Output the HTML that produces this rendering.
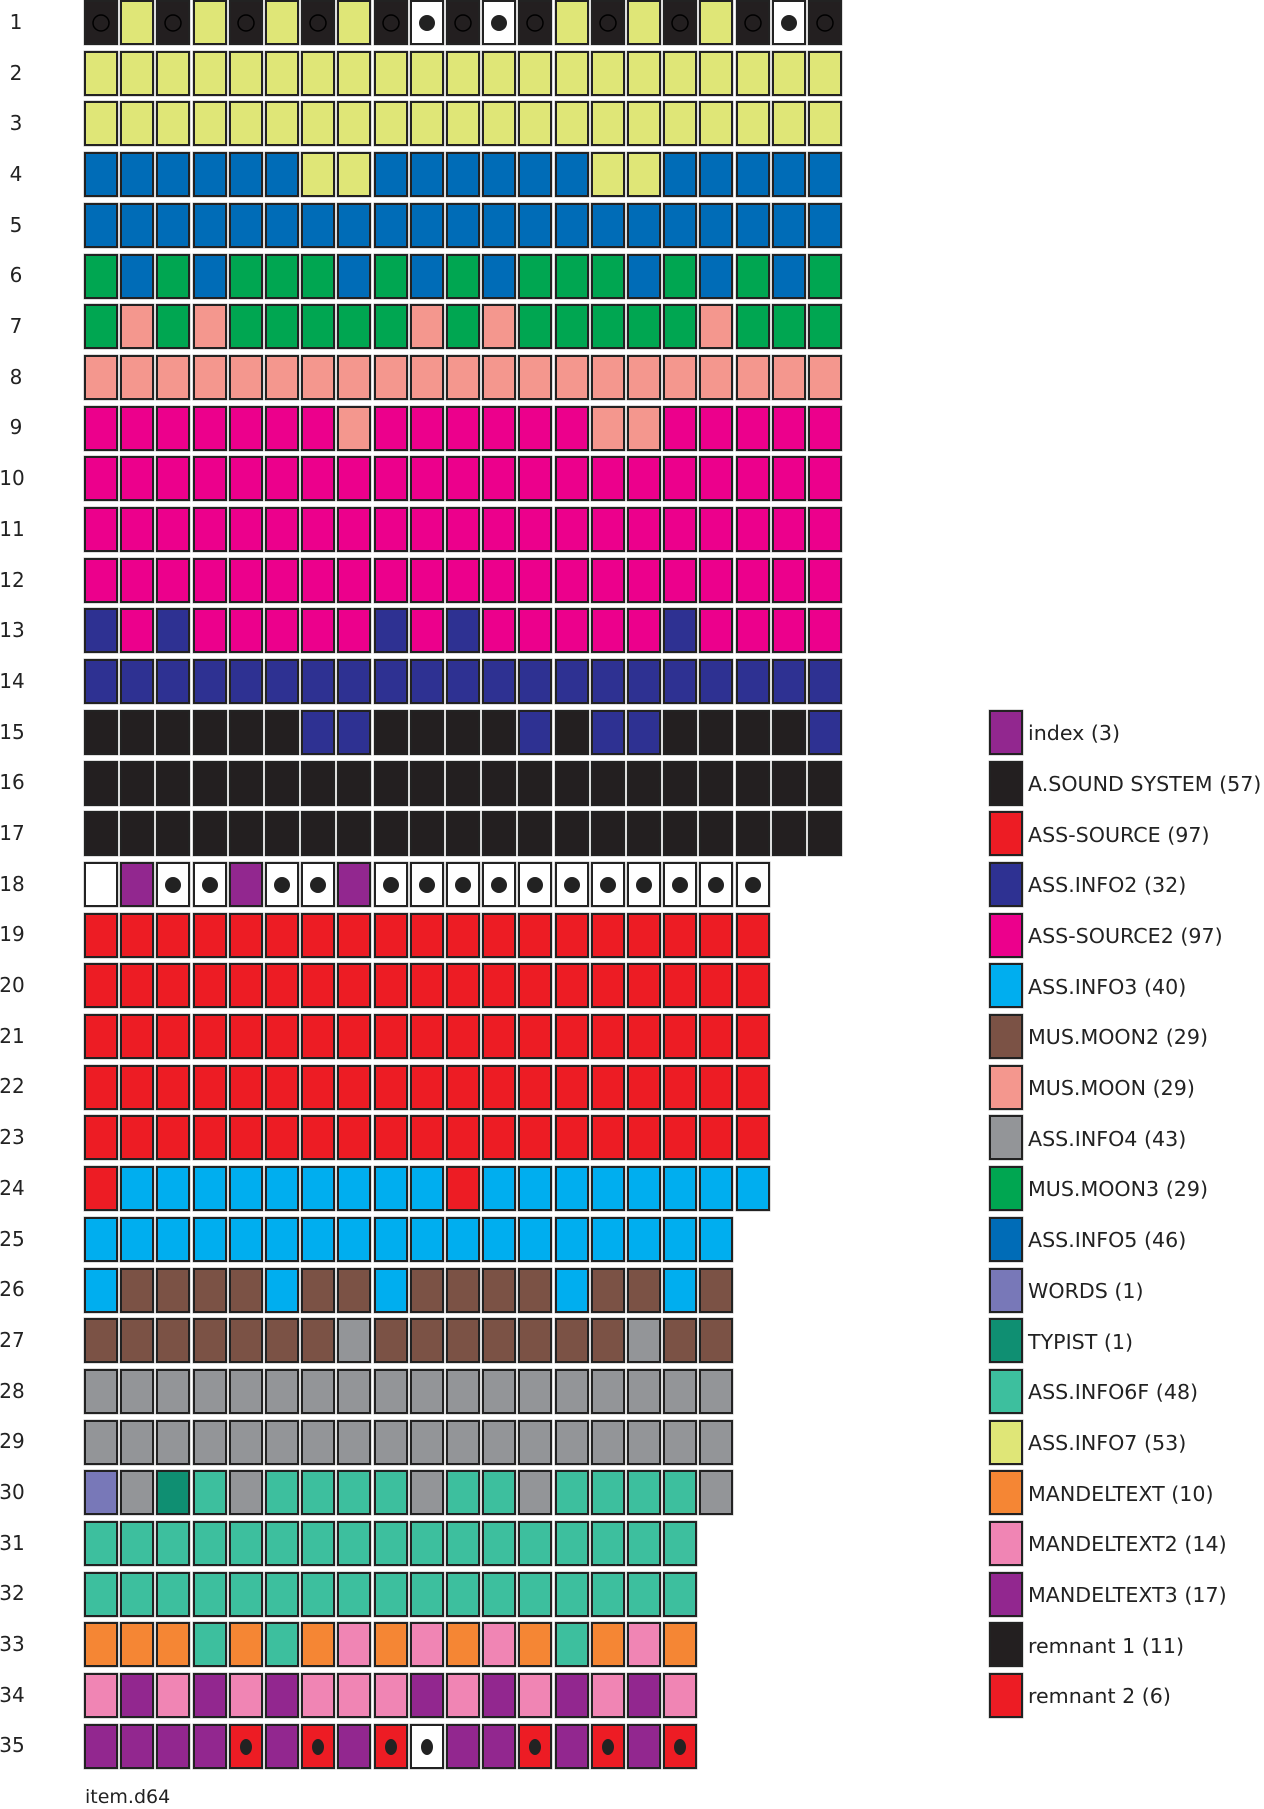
<!DOCTYPE html>
<html><head><meta charset="utf-8"><style>
body{margin:0;background:#fff}
svg{display:block}
text{font-family:"DejaVu Sans","Liberation Sans",sans-serif;fill:#222}
</style></head><body>
<svg id="s" width="1264" height="1809" xmlns="http://www.w3.org/2000/svg">
<g id="labels" font-size="20" text-anchor="middle">
<text x="16" y="29">1</text><text x="16" y="80">2</text><text x="16" y="130">3</text><text x="16" y="181">4</text><text x="16" y="232">5</text><text x="16" y="282">6</text><text x="16" y="333">7</text><text x="16" y="384">8</text><text x="16" y="434">9</text><text x="12" y="485">10</text><text x="12" y="536">11</text><text x="12" y="587">12</text><text x="12" y="637">13</text><text x="12" y="688">14</text><text x="12" y="739">15</text><text x="12" y="789">16</text><text x="12" y="840">17</text><text x="12" y="891">18</text><text x="12" y="941">19</text><text x="12" y="992">20</text><text x="12" y="1043">21</text><text x="12" y="1093">22</text><text x="12" y="1144">23</text><text x="12" y="1195">24</text><text x="12" y="1246">25</text><text x="12" y="1296">26</text><text x="12" y="1347">27</text><text x="12" y="1398">28</text><text x="12" y="1448">29</text><text x="12" y="1499">30</text><text x="12" y="1550">31</text><text x="12" y="1600">32</text><text x="12" y="1651">33</text><text x="12" y="1702">34</text><text x="12" y="1752">35</text>
</g>
<text x="85" y="1803" font-size="19">item.d64</text>
<g font-size="20.6">
<text x="1028" y="740">index (3)</text>
<text x="1028" y="791">A.SOUND SYSTEM (57)</text>
<text x="1028" y="842">ASS-SOURCE (97)</text>
<text x="1028" y="892">ASS.INFO2 (32)</text>
<text x="1028" y="943">ASS-SOURCE2 (97)</text>
<text x="1028" y="994">ASS.INFO3 (40)</text>
<text x="1028" y="1044">MUS.MOON2 (29)</text>
<text x="1028" y="1095">MUS.MOON (29)</text>
<text x="1028" y="1146">ASS.INFO4 (43)</text>
<text x="1028" y="1196">MUS.MOON3 (29)</text>
<text x="1028" y="1247">ASS.INFO5 (46)</text>
<text x="1028" y="1298">WORDS (1)</text>
<text x="1028" y="1349">TYPIST (1)</text>
<text x="1028" y="1399">ASS.INFO6F (48)</text>
<text x="1028" y="1450">ASS.INFO7 (53)</text>
<text x="1028" y="1501">MANDELTEXT (10)</text>
<text x="1028" y="1551">MANDELTEXT2 (14)</text>
<text x="1028" y="1602">MANDELTEXT3 (17)</text>
<text x="1028" y="1653">remnant 1 (11)</text>
<text x="1028" y="1703">remnant 2 (6)</text>
</g>
<g id="cells"></g>
</svg>
<script>
var C={K:"#231f20",Y:"#dfe677",B:"#006cb7",G:"#00a651",S:"#f4978e",M:"#ec008c",N:"#2e3192",W:"#ffffff",P:"#92278f",R:"#ed1c24",C:"#00aeef",X:"#7b5245",g:"#939598",L:"#7878b8",T:"#0f8f72",A:"#3dbf9e",O:"#f58634",k:"#f085b4"};
function rep(c,n){return Array(n+1).join(c+" ").trim();}
var rows=[
"Ko Y Ko Y Ko Y Ko Y Ko W* Ko W* Ko Y Ko Y Ko Y Ko W* Ko",
rep("Y",21),rep("Y",21),
"B B B B B B Y Y B B B B B B Y Y B B B B B",
rep("B",21),
"G B G B G G G B G B G B G G G B G B G B G",
"G S G S G G G G G S G S G G G G G S G G G",
rep("S",21),
"M M M M M M M S M M M M M M S S M M M M M",
rep("M",21),rep("M",21),rep("M",21),
"N M N M M M M M N M N M M M M M N M M M M",
rep("N",21),
"K K K K K K N N K K K K N K N N K K K K N",
rep("K",21),rep("K",21),
"W P W* W* P W* W* P "+rep("W*",11),
rep("R",19),rep("R",19),rep("R",19),rep("R",19),rep("R",19),
"R C C C C C C C C C R C C C C C C C C",
rep("C",18),
"C X X X X C X X C X X X X C X X C X",
"X X X X X X X g X X X X X X X g X X",
rep("g",18),rep("g",18),
"L g T A g A A A A g A A g A A A A g",
rep("A",17),rep("A",17),
"O O O A O A O k O k O k O A O k O",
"k P k P k P k k k P k P k P k P k",
"P P P P R* P R* P R* W* P P R* P R* P R*"
];
var s="",py=50.7,px=36.2;
rows.forEach(function(r,i){
 var y=Math.round(i*py)+1;
 r.split(" ").forEach(function(t,j){
  var x=Math.round(85+j*px);
  s+='<rect x="'+(x-1)+'" y="'+(y-1)+'" width="34" height="45" fill="none" stroke="#bbb" stroke-width="1"/>';
  s+='<rect x="'+x+'" y="'+y+'" width="32" height="43" fill="'+C[t[0]]+'" stroke="#222" stroke-width="2"/>';
  var cx=x+16,cy=y+22;
  if(t[1]=="o")s+='<circle cx="'+cx+'" cy="'+cy+'" r="8" fill="none" stroke="#000" stroke-width="1.5"/>';
  if(t[1]=="*"){ if(i==34)s+='<ellipse cx="'+cx+'" cy="'+cy+'" rx="6" ry="8" fill="#222"/>'; else s+='<circle cx="'+cx+'" cy="'+cy+'" r="8" fill="#222"/>';}
 });
});
var lg=["P","K","R","N","M","C","X","S","g","G","B","L","T","A","Y","O","k","P","K","R"];
lg.forEach(function(c,i){var y=Math.round((14+i)*py)+1;
 s+='<rect x="989" y="'+(y-1)+'" width="34" height="45" fill="none" stroke="#bbb"/>';
 s+='<rect x="990" y="'+y+'" width="32" height="43" fill="'+C[c]+'" stroke="#222" stroke-width="2"/>';});
document.getElementById("cells").innerHTML=s;
</script>
</body></html>
